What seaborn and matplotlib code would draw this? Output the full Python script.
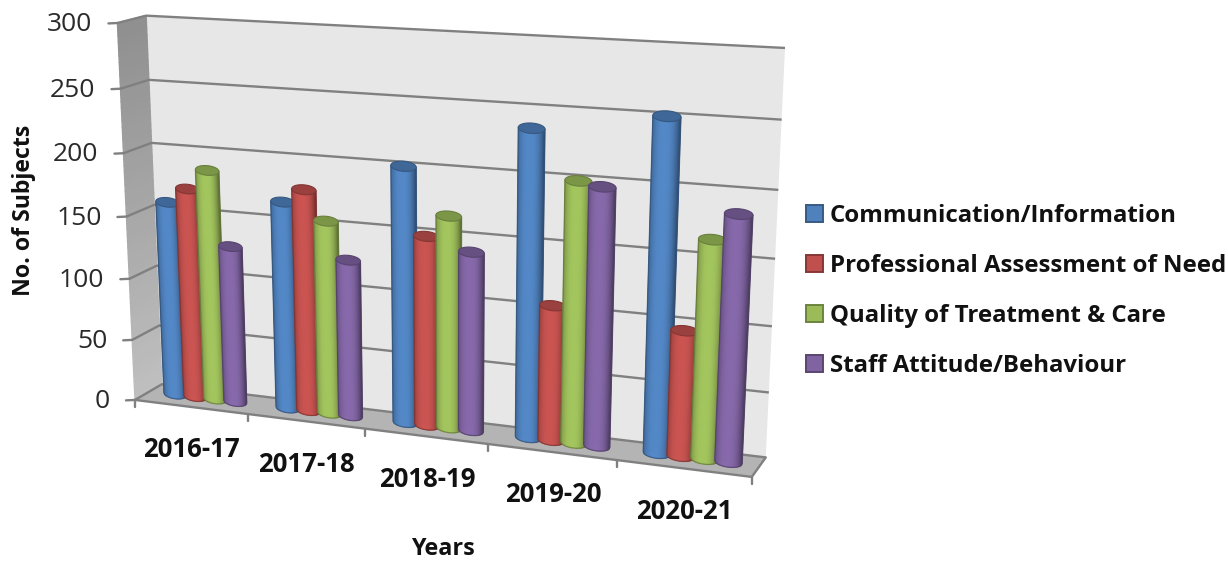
import numpy as np
import pandas as pd
import seaborn as sns
import matplotlib
matplotlib.use("Agg")
import matplotlib.pyplot as plt
import matplotlib.transforms as mtransforms
from matplotlib.collections import PolyCollection
from matplotlib.patches import Patch
from matplotlib.colors import to_rgb

years = ["2016-17", "2017-18", "2018-19", "2019-20", "2020-21"]
series = ["Communication/Information", "Professional Assessment of Need",
          "Quality of Treatment & Care", "Staff Attitude/Behaviour"]
communication = [158, 166, 201, 236, 251]
assessment = [170, 177, 149, 105, 96]
quality = [186, 154, 166, 200, 165]
attitude = [127, 125, 140, 197, 185]
colors = ["#4F81BD", "#C0504D", "#9BBB59", "#8064A2"]
y_ticks = [0, 50, 100, 150, 200, 250, 300]
FONT = "Open Sans"

# --- the 3-D frame of the chart: (category, value, depth) -> image pixel
anchors = [
    (-0.5, 300, 1, 146.7, 15.7), (-0.5, 300, 0, 116.7, 23.3),
    (-0.5, 0, 0, 136.0, 398.5), (-0.5, 0, 1, 160.7, 386.0),
    (4.5, 0, 0, 752.7, 477.0), (4.5, 0, 1, 765.7, 456.0),
    (4.5, 300, 1, 785.0, 48.0),
    (-0.5, 250, 1, 149.3, 79.3), (-0.5, 200, 1, 151.7, 142.7),
    (4.5, 250, 1, 781.7, 119.7), (4.5, 200, 1, 778.3, 190.0),
    (-0.5, 250, 0, 120.0, 89.3), (-0.5, 200, 0, 123.5, 152.7),
    (0.5, 0, 0, 247.7, 414.0), (1.5, 0, 0, 365.7, 428.3), (3.5, 0, 0, 615.7, 461.7),
]
A = []
b = []
for X, Y, Z, u, v in anchors:
    Y = Y / 100.0
    A.append([X, Y, Z, 1, 0, 0, 0, 0, -u * X, -u * Y, -u * Z])
    A.append([0, 0, 0, 0, X, Y, Z, 1, -v * X, -v * Y, -v * Z])
    b += [u, v]
sol = np.linalg.lstsq(np.array(A, float), np.array(b, float), rcond=None)[0]
CAM = np.append(sol, 1.0).reshape(3, 4)


def project(x, y, z):
    x, y, z = np.broadcast_arrays(np.asarray(x, float), np.asarray(y, float) / 100.0, np.asarray(z, float))
    q = CAM @ np.array([x.ravel(), y.ravel(), z.ravel(), np.ones(x.size)])
    return np.c_[q[0] / q[2], q[1] / q[2]]


class Depth(mtransforms.Transform):
    """Data (category, value) at a fixed depth -> image pixels."""
    input_dims = output_dims = 2

    def __init__(self, z):
        super().__init__()
        self.z = z

    def transform_non_affine(self, xy):
        xy = np.asarray(xy, float)
        return project(xy[:, 0], xy[:, 1], self.z)


sns.set_theme(style="white")
plt.rcParams["font.family"] = [FONT, "DejaVu Sans"]
fig = plt.figure(figsize=(12.28, 5.63), dpi=100, facecolor="white")
ax = fig.add_axes([0, 0, 1, 1])

df = pd.DataFrame({
    "Position": list(range(len(years))) * 4,
    "Series": np.repeat(series, 5),
    "Subjects": communication + assessment + quality + attitude,
})
sns.barplot(data=df, x="Position", y="Subjects", hue="Series", hue_order=series, native_scale=True,
            palette=colors, saturation=1, width=0.72, gap=-0.13, legend=False, ax=ax)
bars = list(ax.patches)
ax.set_autoscale_on(False)
ax.set_xlim(0, 1228)
ax.set_ylim(563, 0)
ax.axis("off")

BAR_Z = 0.55
T = Depth(BAR_Z) + ax.transData
x0, x1 = -0.5, 4.5


def poly(pts, **kw):
    pts = np.asarray(pts)
    ax.fill(pts[:, 0], pts[:, 1], **kw)


# walls
poly(project([x0, x1, x1, x0], [0, 0, 300, 300], 1), color="#E7E7E7", lw=0, zorder=1)
levels = np.linspace(0, 300, 61)
for a, c in zip(levels[:-1], levels[1:]):
    g = 0.75 - 0.19 * (a / 300)
    poly(project([x0, x0, x0, x0], [a, a, c, c], [0, 1, 1, 0]), color=(g, g, g), lw=1.0, zorder=1)
poly(project([x0, x1, x1, x0], 0, [0, 0, 1, 1]), color="#B4B4B4", lw=0, zorder=1)

# grid lines, floor edge and ticks
GRID = "#808080"
for t in y_ticks:
    pts = project([x1, x0, x0], t, [1, 1, 0])
    ax.plot(pts[:, 0], pts[:, 1], color=GRID, lw=1.7, zorder=2, solid_capstyle="butt", solid_joinstyle="miter")
    p = project(x0, t, 0)[0]
    ax.plot([p[0] - 9, p[0]], [p[1] + 0.4, p[1]], color=GRID, lw=1.7, zorder=2)
    ax.text(p[0] - 25, p[1] + 1.5, str(t), ha="right", va="center", fontsize=19, color="#2A2A2A", zorder=6)
pts = project([x0, x1, x1], 0, [0, 0, 1])
ax.plot(pts[:, 0], pts[:, 1], color=GRID, lw=1.7, zorder=2)
for i in range(6):
    p = project(x0 + i, 0, 0)[0]
    ax.plot([p[0], p[0]], [p[1], p[1] + 7], color=GRID, lw=1.7, zorder=2)

# cylinders, built from the bars seaborn laid out
N = 30
t_edges = np.linspace(-1, 1, N + 1)
t_mid = 0.5 * (t_edges[1:] + t_edges[:-1])
shade = 0.68 + 0.38 * (1 - np.abs(t_mid + 0.1) ** 2.6)
CAP_E = 3.8
theta = np.linspace(0, 2 * np.pi, 80)
for k, patch in enumerate(bars):
    base = np.array(patch.get_facecolor()[:3])
    z = 3 + k * 0.01
    cx = patch.get_x() + patch.get_width() / 2
    r = patch.get_width() / 2
    v = patch.get_height()
    patch.set_transform(T)
    patch.set_clip_on(False)
    patch.set_linewidth(0)
    patch.set_zorder(z)
    xs = cx + r * t_edges
    bow = CAP_E * np.sqrt(np.clip(1 - t_edges ** 2, 0, 1))
    strips = [np.array([[xs[j], v], [xs[j + 1], v], [xs[j + 1], -bow[j + 1]], [xs[j], -bow[j]]])
              for j in range(N)]
    rgb = np.clip(base[None, :] * shade[:, None], 0, 1)
    coll = PolyCollection(strips, facecolors=rgb, edgecolors=rgb, linewidths=0.5, transform=T,
                          zorder=z + 0.001, clip_on=False)
    ax.add_collection(coll, autolim=False)
    dark = base * 0.62
    ax.plot(np.r_[xs[0], xs, xs[-1]], np.r_[v, -bow, v], color=dark, lw=0.9, alpha=0.7, transform=T,
            zorder=z + 0.002, clip_on=False)
    cap_x = cx + r * np.cos(theta)
    cap_y = v + CAP_E * np.sin(theta)
    ax.fill(cap_x, cap_y, color=base * 0.80, lw=0.8, ec=base * 0.68, transform=T, zorder=z + 0.003, clip_on=False)

# category labels
TEXT = "#111111"
for i, yr in enumerate(years):
    p = project(i, 0, 0)[0]
    ax.text(p[0] + 1, p[1] + 43, yr, ha="center", va="center", fontsize=18.5, fontweight="bold", color=TEXT, zorder=6)

ax.text(443, 549, "Years", ha="center", va="center", fontsize=16.8, fontweight="bold", color=TEXT)
ax.text(24, 210, "No. of Subjects", ha="center", va="center", rotation=90, fontsize=16.7, fontweight="bold", color=TEXT)

handles = [Patch(facecolor=c, edgecolor=np.array(to_rgb(c)) * 0.7, linewidth=1.4) for c in colors]
FS = 17.3
ax.legend(handles, series, loc="center left", bbox_to_anchor=(806 / 1228, 1 - 291 / 563), frameon=False,
          prop={"family": FONT, "weight": "bold", "size": FS}, handlelength=0.72, handleheight=0.72,
          handletextpad=0.28, labelspacing=1.09, labelcolor=TEXT, borderpad=0, borderaxespad=0)

fig.savefig("out.png", dpi=100, facecolor="white")
